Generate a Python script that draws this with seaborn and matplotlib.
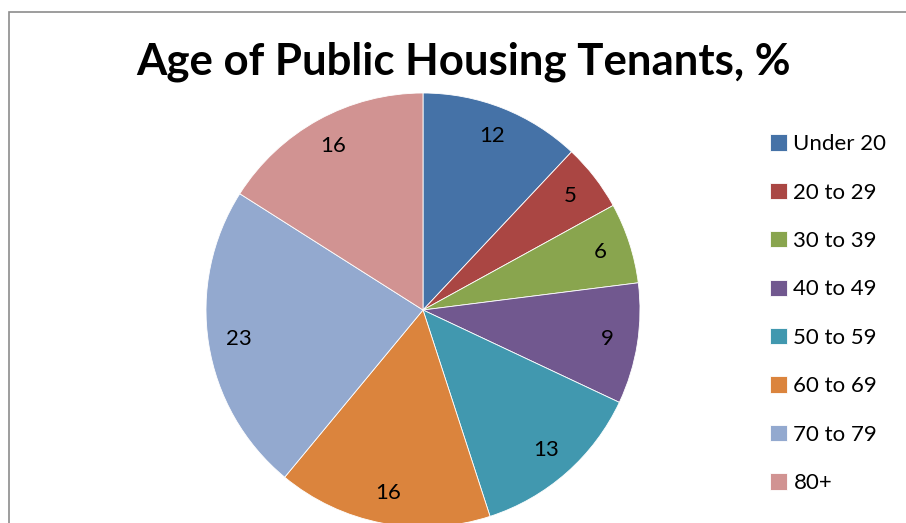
import matplotlib
matplotlib.use("Agg")
import matplotlib.pyplot as plt
import seaborn as sns
from matplotlib.patches import Rectangle

# data
age_groups = ["Under 20", "20 to 29", "30 to 39", "40 to 49",
              "50 to 59", "60 to 69", "70 to 79", "80+"]
shares = [12, 5, 6, 9, 13, 16, 23, 16]
colors = ["#4572A7", "#AA4643", "#89A54E", "#71588F",
          "#4198AF", "#DB843D", "#93A9CF", "#D19392"]

sns.set_theme(style="white")
plt.rcParams["font.family"] = ["Lato", "DejaVu Sans"]
plt.rcParams["text.color"] = "black"
pal = sns.color_palette(colors)

W, H = 906, 523
fig = plt.figure(figsize=(W / 100, H / 100), dpi=100)

# chart frame (cropped at right and bottom)
fig.patches.append(Rectangle((8.5 / W, -0.1), 2.0, 1 - 12.5 / H + 0.1,
                             transform=fig.transFigure, fill=False,
                             edgecolor="#8c8c8c", linewidth=1.2))

# pie axes: centre (423, 310) px, radius 217 px
r = 217
ax = fig.add_axes([(423 - r) / W, (H - 310 - r) / H, 2 * r / W, 2 * r / H])
wedges, texts = ax.pie(shares, colors=pal, startangle=90, counterclock=False,
                       labels=[str(v) for v in shares], labeldistance=0.86,
                       wedgeprops=dict(edgecolor="white", linewidth=0.6),
                       textprops=dict(fontsize=16, color="black"))
for t in texts:
    t.set_ha("center")
    t.set_va("center")
ax.set_xlim(-1, 1)
ax.set_ylim(-1, 1)
ax.set_aspect("equal")
ax.axis("off")

fig.text(463 / W, 1 - 62 / H, "Age of Public Housing Tenants, %",
         ha="center", va="center", fontsize=31.5, fontweight="bold",
         color="black")

leg = fig.legend(wedges, age_groups, loc="upper left",
                 bbox_to_anchor=(759 / W, 1 - 123 / H), frameon=False,
                 fontsize=16, handlelength=0.75, handleheight=0.75,
                 handletextpad=0.3, labelspacing=1.28, borderpad=0,
                 labelcolor="black")

fig.savefig("out.png", dpi=100)
